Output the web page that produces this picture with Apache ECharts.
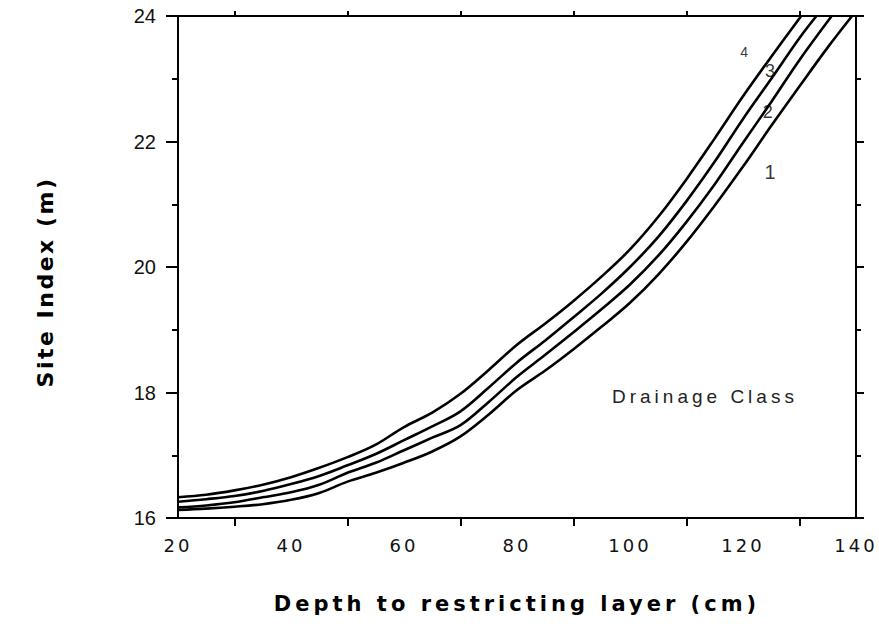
<!DOCTYPE html>
<html>
<head>
<meta charset="utf-8">
<script src="https://cdn.jsdelivr.net/npm/echarts@6/dist/echarts.min.js"></script>
<style>html,body{margin:0;padding:0;background:#fff;}#c{width:879px;height:626px;}</style>
</head>
<body>
<div id="c"></div>
<script>
// Depth to restricting layer (cm) vs Site Index (m), one curve per drainage class
const depth4 = [20,25,30,35,40,45,50,55,60,65,70,75,80,85,90,95,100,105,110,115,120,125,130.3];
const class4 = [16.33,16.37,16.44,16.53,16.65,16.80,16.97,17.17,17.45,17.68,17.98,18.36,18.76,19.10,19.46,19.85,20.28,20.80,21.40,22.05,22.72,23.35,24.0];
const depth3 = [20,25,30,35,40,45,50,55,60,65,70,75,80,85,90,95,100,105,110,115,120,125,130,133];
const class3 = [16.26,16.30,16.35,16.43,16.54,16.67,16.84,17.02,17.24,17.46,17.70,18.08,18.48,18.83,19.20,19.58,20.00,20.48,21.05,21.68,22.36,23.00,23.65,24.0];
const depth2 = [20,25,30,35,40,45,50,55,60,65,70,75,80,85,90,95,100,105,110,115,120,125,130,135.7];
const class2 = [16.17,16.20,16.25,16.33,16.41,16.53,16.72,16.88,17.08,17.28,17.48,17.85,18.25,18.60,18.96,19.33,19.72,20.18,20.72,21.32,21.98,22.63,23.30,24.0];
const depth1 = [20,25,30,35,40,45,50,55,60,65,70,75,80,85,90,95,100,105,110,115,120,125,130,135,139.3];
const class1 = [16.13,16.15,16.18,16.22,16.29,16.40,16.58,16.72,16.88,17.06,17.30,17.65,18.04,18.35,18.69,19.05,19.43,19.88,20.40,20.98,21.60,22.25,22.88,23.50,24.0];

// curve labels (drainage class numbers), placed in data space
const labelNames = ['4','3','2','1'];
const labelX = [120.2,124.8,124.4,124.8];
const labelY = [23.42,23.12,22.47,21.52];
const labelSizes = [14,18,18,20];

const xTicks = [20,40,60,80,100,120,140];
const yTicks = [16,18,20,22,24];

const xTitle = 'Depth to restricting layer (cm)';
const yTitle = 'Site Index (m)';
const noteText = 'Drainage Class';

const pairs = (xs, ys) => xs.map((x, i) => [x, ys[i]]);
const FONT = '"Liberation Sans", Arial, Helvetica, sans-serif';
const WIDE = '"DejaVu Sans", Verdana, sans-serif';

const chart = echarts.init(document.getElementById('c'), null, {renderer: 'svg'});

const lineStyle = {color: '#000', width: 2.6};
const mkLine = (name, xs, ys) => ({
  name, type: 'line', data: pairs(xs, ys), showSymbol: false, symbol: 'none',
  smooth: 0.35, lineStyle, z: 3, animation: false
});

const baseX = {
  type: 'value', min: xTicks[0], max: xTicks[xTicks.length - 1], interval: 20,
  axisLine: {show: true, onZero: false, lineStyle: {color: '#000', width: 2}},
  axisTick: {show: false},
  minorTick: {show: true, splitNumber: 2, length: 8, lineStyle: {color: '#000', width: 2}},
  splitLine: {show: false}, minorSplitLine: {show: false}
};
const baseY = {
  type: 'value', min: yTicks[0], max: yTicks[yTicks.length - 1], interval: 2,
  axisLine: {show: true, onZero: false, lineStyle: {color: '#000', width: 2}},
  axisTick: {show: true, length: 12, lineStyle: {color: '#000', width: 2}},
  minorTick: {show: true, splitNumber: 2, length: 6, lineStyle: {color: '#000', width: 2}},
  splitLine: {show: false}, minorSplitLine: {show: false}
};

chart.on('finished', applySpacing);

chart.setOption({
  animation: false,
  backgroundColor: '#fff',
  grid: {left: 178, right: 23, top: 16, bottom: 108, containLabel: false},
  xAxis: [
    Object.assign({}, baseX, {
      position: 'bottom',
      name: xTitle, nameLocation: 'middle', nameGap: 75,
      nameTextStyle: {fontFamily: WIDE, fontWeight: 'bold', fontSize: 21, color: '#000'},
      axisLabel: {fontFamily: WIDE, fontSize: 18, color: '#111', margin: 18,
        formatter: v => xTicks.indexOf(v) >= 0 ? String(v) : ''}
    }),
    Object.assign({}, baseX, {position: 'top', axisLabel: {show: false},
      minorTick: {show: true, splitNumber: 2, length: 5, lineStyle: {color: '#000', width: 2}}})
  ],
  yAxis: [
    Object.assign({}, baseY, {
      position: 'left',
      axisLabel: {fontFamily: FONT, fontSize: 20, color: '#111', margin: 22,
        formatter: v => yTicks.indexOf(v) >= 0 ? String(v) : ''}
    }),
    Object.assign({}, baseY, {position: 'right', axisLabel: {show: false},
      axisTick: {show: true, length: 8, lineStyle: {color: '#000', width: 2}},
      minorTick: {show: true, splitNumber: 2, length: 5, lineStyle: {color: '#000', width: 2}}})
  ],
  series: [
    mkLine('4', depth4, class4),
    mkLine('3', depth3, class3),
    mkLine('2', depth2, class2),
    mkLine('1', depth1, class1),
    {
      type: 'scatter', symbolSize: 0, z: 4, animation: false, silent: true,
      data: labelNames.map((n, i) => ({value: [labelX[i], labelY[i]], name: n,
        label: {fontSize: labelSizes[i]}})),
      label: {show: true, position: 'inside', formatter: p => p.name,
        fontFamily: FONT, color: '#000'}
    }
  ],
  graphic: [
    {type: 'text', id: 'ytitle', x: 45, y: 282, rotation: Math.PI / 2,
      style: {text: yTitle, font: 'bold 22px ' + WIDE, fill: '#000',
        textAlign: 'center', textVerticalAlign: 'middle'}},
    {type: 'text', id: 'note', left: 612, top: 387,
      style: {text: noteText, font: '19px ' + FONT, fill: '#222'}}
  ]
});

function applySpacing() {
  document.querySelectorAll('#c text').forEach(t => {
    const s = t.textContent;
    if (s === xTitle) t.style.letterSpacing = '4px';
    else if (s === yTitle) t.style.letterSpacing = '2.5px';
    else if (s === noteText) t.style.letterSpacing = '4px';
    else if (/^\d+$/.test(s) && s.length >= 2) {
      const r = t.getBoundingClientRect();
      if (r.top > 525) t.style.letterSpacing = '3px';
    }
  });
}
applySpacing();
setTimeout(applySpacing, 50);
</script>
</body>
</html>
